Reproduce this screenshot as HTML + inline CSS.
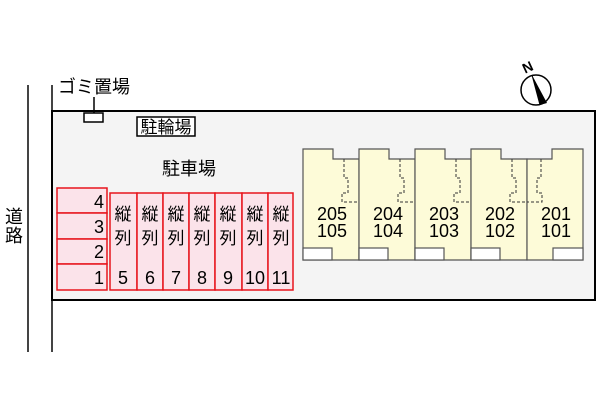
<!DOCTYPE html>
<html><head><meta charset="utf-8"><style>
body{margin:0;width:600px;height:400px;background:#fff;overflow:hidden}
svg{display:block}
text{font-family:"Liberation Sans","Noto Sans CJK JP",sans-serif}
</style></head><body>
<svg width="600" height="400" viewBox="0 0 600 400">
<line x1="28" y1="85" x2="28" y2="352" stroke="#444" stroke-width="2"/>
<line x1="52" y1="85" x2="52" y2="352" stroke="#444" stroke-width="2"/>
<rect x="52" y="111" width="543" height="189" fill="#f4f4f4" stroke="#000" stroke-width="2"/>
<text x="14" y="223" font-size="18" text-anchor="middle">道</text>
<text x="14" y="242" font-size="18" text-anchor="middle">路</text>
<text x="58" y="93" font-size="18">ゴミ置場</text>
<line x1="94" y1="97" x2="94" y2="113" stroke="#000" stroke-width="1.5"/>
<rect x="84" y="113" width="19" height="9" fill="#fff" stroke="#000" stroke-width="1.5"/>
<rect x="137" y="117" width="58" height="19" fill="#fff" stroke="#000" stroke-width="1.5"/>
<text x="166" y="133" font-size="17" text-anchor="middle">駐輪場</text>
<text x="189" y="175" font-size="18" text-anchor="middle">駐車場</text>
<g fill="#fbe3ea" stroke="#e8141c" stroke-width="1.5">
<rect x="57" y="188" width="50" height="25"/><rect x="57" y="213" width="50" height="26"/>
<rect x="57" y="239" width="50" height="25"/><rect x="57" y="264" width="50" height="26"/>
<rect x="110" y="193" width="27" height="97"/><rect x="137" y="193" width="26" height="97"/>
<rect x="163" y="193" width="26" height="97"/><rect x="189" y="193" width="26" height="97"/>
<rect x="215" y="193" width="27" height="97"/><rect x="242" y="193" width="26" height="97"/>
<rect x="268" y="193" width="25" height="97"/>
</g>
<g font-size="18" text-anchor="end">
<text x="104" y="208">4</text><text x="104" y="233">3</text><text x="104" y="258">2</text><text x="104" y="284">1</text>
</g>
<g font-size="18" text-anchor="middle">
<text x="123" y="284">5</text><text x="150" y="284">6</text><text x="176" y="284">7</text><text x="202" y="284">8</text><text x="228" y="284">9</text><text x="255" y="284">10</text><text x="281" y="284">11</text>
</g>
<g font-size="17" text-anchor="middle">
<text x="123" y="220">縦</text><text x="123" y="244">列</text>
<text x="150" y="220">縦</text><text x="150" y="244">列</text>
<text x="176" y="220">縦</text><text x="176" y="244">列</text>
<text x="202" y="220">縦</text><text x="202" y="244">列</text>
<text x="228" y="220">縦</text><text x="228" y="244">列</text>
<text x="255" y="220">縦</text><text x="255" y="244">列</text>
<text x="281" y="220">縦</text><text x="281" y="244">列</text>
</g>
<g stroke="#555" stroke-width="1.2">
<path d="M303 149H333V159H359V260H303Z" fill="#fdfbd8"/>
<path d="M359 149H389V159H415V260H359Z" fill="#fdfbd8"/>
<path d="M415 149H445V159H471V260H415Z" fill="#fdfbd8"/>
<path d="M471 149H501V159H527V260H471Z" fill="#fdfbd8"/>
<path d="M527 159H552V149H583V260H527Z" fill="#fdfbd8"/>
<g fill="#fff">
<rect x="303" y="248" width="29" height="12"/><rect x="359" y="248" width="29" height="12"/>
<rect x="415" y="248" width="29" height="12"/><rect x="471" y="248" width="29" height="12"/>
<rect x="553" y="248" width="30" height="12"/>
</g>
</g>
<g fill="none" stroke="#333" stroke-width="1" stroke-dasharray="3,2">
<path d="M344 159V178H348V193H342V202H359"/>
<path d="M400 159V178H404V193H398V202H415"/>
<path d="M456 159V178H460V193H454V202H471"/>
<path d="M512 159V178H516V193H510V202H527"/>
<path d="M541 159V178H537V193H542V202H527"/>
</g>
<g font-size="18" text-anchor="middle">
<text x="332" y="220">205</text><text x="332" y="237">105</text>
<text x="388" y="220">204</text><text x="388" y="237">104</text>
<text x="444" y="220">203</text><text x="444" y="237">103</text>
<text x="500" y="220">202</text><text x="500" y="237">102</text>
<text x="556" y="220">201</text><text x="556" y="237">101</text>
</g>
<circle cx="536" cy="90" r="15" fill="#fff" stroke="#000" stroke-width="1.5"/>
<path d="M532 75L547 103L540 105Z" fill="#000"/>
<line x1="532" y1="75" x2="540" y2="105" stroke="#000" stroke-width="1"/>
<text x="528" y="72" font-size="14" font-weight="bold" text-anchor="middle" transform="rotate(-25 528 68)">N</text>
</svg>
</body></html>
